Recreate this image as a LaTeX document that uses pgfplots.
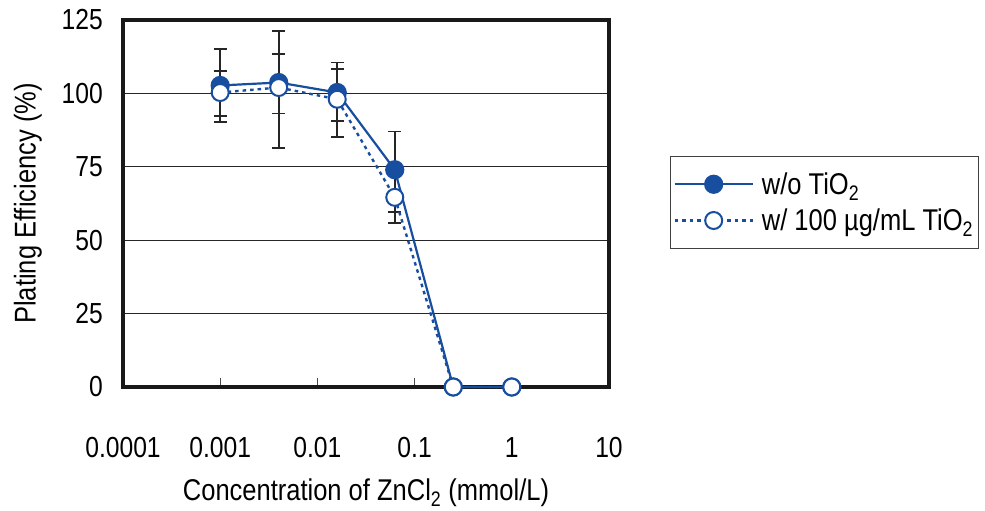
\documentclass[border=0pt]{standalone}
\usepackage{fontspec}
\setmainfont{Liberation Sans}[FakeStretch=0.85]
\usepackage{pgfplots}
\pgfplotsset{compat=1.18}
\definecolor{blueA}{RGB}{24,78,160}
\begin{document}
\begin{tikzpicture}
\begin{axis}[
  name=ax,
  at={(0,0)}, anchor=south west,
  width=486pt, height=367pt, scale only axis,
  xmode=log, xmin=1e-4, xmax=10, ymin=0, ymax=125,
  xtick={1e-4,1e-3,1e-2,1e-1,1,10},
  xticklabels={0.0001,0.001,0.01,0.1,1,10},
  xminorticks=false,
  ytick={0,25,50,75,100,125},
  /pgf/number format/assume math mode=true,
  tick label style={font=\fontsize{29}{32}\selectfont},
  xticklabel style={inner sep=0pt, anchor=north, yshift=-50pt},
  yticklabel style={inner sep=0pt, anchor=east, xshift=-20pt},
  xtick pos=bottom, tick align=inside, major tick length=9pt,
  xtick style={line width=1pt, black!70},
  ytick style={draw=none},
  ymajorgrids, grid style={line width=1pt, black!85},
  axis line style={line width=3.2pt, black!90},
  xlabel={Concentration of ZnCl\textsubscript{2} (mmol/L)},
  ylabel={Plating Efficiency (\%)},
  label style={font=\fontsize{30}{34}\selectfont},
  xlabel style={at={(rel axis cs:0.5,0)}, anchor=center, yshift=-106pt},
  ylabel style={at={(rel axis cs:0,0.5)}, anchor=center, yshift=95pt},
  legend style={at={(rel axis cs:1.1255,0.629)}, anchor=north west,
    font=\fontsize{30}{34}\selectfont, draw=black!75, line width=1pt,
    inner xsep=3pt, inner ysep=14pt, row sep=9pt,
    /tikz/every odd column/.append style={column sep=6pt},
    /tikz/every even column/.append style={column sep=0pt}},
  legend cell align=left,
  legend image code/.code={\draw[mark repeat=2,mark phase=2] plot coordinates {(0pt,0pt) (39pt,0pt) (78pt,0pt)};},
  clip=false,
]
% error bars: without TiO2
\addplot[draw=none, forget plot,
  error bars/.cd, y dir=both, y explicit,
  error bar style={line width=1.7pt, draw=black!85},
  error mark options={rotate=90, mark size=6.5pt, line width=1.7pt, draw=black!85}]
  table[x=x, y=y, y error plus=ep, y error minus=em] {
x      y     ep    em
0.001  102.7 12.4  12.5
0.004  103.7 17.6  22.2
0.016  100.3 10.2  9.7
0.0625 74.0  13.0  14.5
};
% error bars: with TiO2
\addplot[draw=none, forget plot,
  error bars/.cd, y dir=both, y explicit,
  error bar style={line width=1.7pt, draw=black!85},
  error mark options={rotate=90, mark size=6.5pt, line width=1.7pt, draw=black!85}]
  table[x=x, y=y, y error plus=ep, y error minus=em] {
x      y     ep    em
0.001  100.3 7.3   8.0
0.004  102.0 11.3  8.8
0.016  98.0  10.2  12.8
0.0625 64.6  8.8   8.8
};
\addplot[blueA, line width=2.2pt, mark=*, mark size=8.5pt,
  mark options={solid, fill=blueA, draw=blueA}]
  table[x=x, y=y] {
x      y
0.001  102.7
0.004  103.7
0.016  100.3
0.0625 74.0
0.25   0
1      0
};
\addlegendentry{w/o TiO\textsubscript{2}}
\addplot[blueA, line width=2.4pt, dash pattern=on 3.5pt off 4pt, mark=*, mark size=8.5pt,
  mark options={solid, fill=white, draw=blueA, line width=2pt}]
  table[x=x, y=y] {
x      y
0.001  100.3
0.004  102.0
0.016  98.0
0.0625 64.6
0.25   0
1      0
};
\addlegendentry{w/ 100 µg/mL TiO\textsubscript{2}}
\end{axis}
\pgfresetboundingbox
\path[use as bounding box] ([shift={(-123pt,-124pt)}]ax.south west) rectangle ++(985pt,511pt);
\end{tikzpicture}
\end{document}
